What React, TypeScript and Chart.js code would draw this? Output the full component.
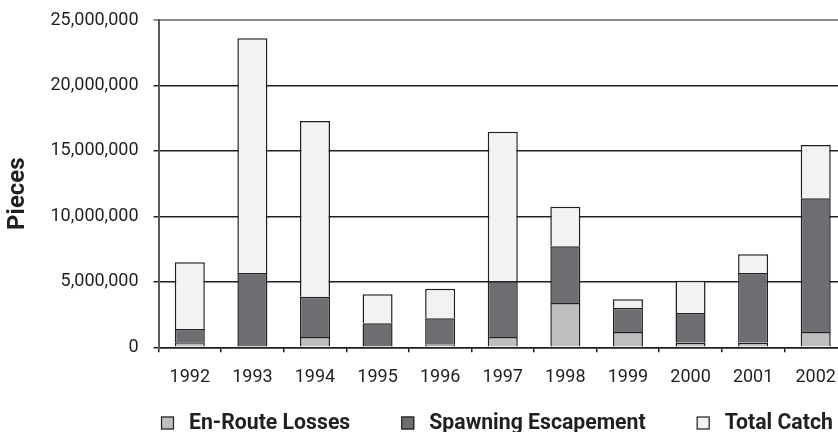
import React, { useEffect, useRef } from "react";
import { Chart, registerables } from "chart.js";

Chart.register(...registerables);

// ---- data ----
const years = ["1992", "1993", "1994", "1995", "1996", "1997", "1998", "1999", "2000", "2001", "2002"];
const enRouteLosses = [380000, 0, 790000, 0, 200000, 790000, 3380000, 1170000, 350000, 350000, 1170000];
const spawningEscapement = [1020000, 5680000, 3080000, 1830000, 2010000, 4250000, 4340000, 1860000, 2270000, 5330000, 10210000];
const totalCatch = [5090000, 17920000, 13420000, 2220000, 2270000, 11430000, 3020000, 640000, 2470000, 1420000, 4070000];
const seriesNames = ["En-Route Losses", "Spawning Escapement", "Total Catch"];
const yAxisTitle = "Pieces";
const yMax = 25000000;
const yStep = 5000000;

const FONT = "Roboto, 'Liberation Sans', Arial, sans-serif";
const INK = "#231f20";
const COLORS = ["#bcbec0", "#6d6e71", "#f2f2f3"];

const annotations = {
  id: "bottomLegend",
  afterDraw(chart: any) {
    const { ctx, chartArea } = chart;
    ctx.save();
    // legend
    const box = 13;
    const gap = 15;
    const itemGap = 51;
    const squeeze = 0.965;
    const cy = 423;
    ctx.font = `bold 22px ${FONT}`;
    ctx.textBaseline = "middle";
    ctx.textAlign = "left";
    let x = chartArea.left + 2.5;
    chart.data.datasets.forEach((ds: any) => {
      ctx.fillStyle = ds.backgroundColor;
      ctx.fillRect(x, cy - box / 2, box, box);
      ctx.strokeStyle = INK;
      ctx.lineWidth = 1.2;
      ctx.strokeRect(x + 0.5, cy - box / 2 + 0.5, box - 1, box - 1);
      ctx.fillStyle = INK;
      const tx = x + box + gap;
      ctx.save();
      ctx.translate(tx, cy);
      ctx.scale(squeeze, 1);
      ctx.fillText(ds.label, 0, 0);
      ctx.restore();
      x = tx + ctx.measureText(ds.label).width * squeeze + itemGap;
    });
    // y-axis title
    ctx.translate(18, (chartArea.top + chartArea.bottom) / 2 + 10);
    ctx.rotate(-Math.PI / 2);
    ctx.textAlign = "center";
    ctx.font = `bold 24px ${FONT}`;
    ctx.fillStyle = INK;
    ctx.fillText(yAxisTitle, 0, 0);
    ctx.restore();
  },
};

export default function App() {
  const ref = useRef<HTMLCanvasElement | null>(null);

  useEffect(() => {
    if (!ref.current) return;
    const series = [enRouteLosses, spawningEscapement, totalCatch];
    const chart = new Chart(ref.current, {
      type: "bar",
      data: {
        labels: years,
        datasets: series.map((d, i) => ({
          label: seriesNames[i],
          data: d,
          backgroundColor: COLORS[i],
          borderColor: INK,
          borderWidth: (c: any) =>
            c.raw === 0 ? 0 : { top: 1.5, bottom: 0, left: 1.5, right: 1.5 },
          borderSkipped: false,
          barPercentage: 0.48,
          categoryPercentage: 1.0,
        })),
      },
      options: {
        responsive: true,
        maintainAspectRatio: false,
        animation: false,
        layout: { padding: { top: 20, right: 13, left: 0, bottom: 0 } },
        plugins: {
          legend: { display: false },
          tooltip: { enabled: false },
        },
        scales: {
          x: {
            stacked: true,
            grid: {
              display: true,
              drawOnChartArea: false,
              offset: true,
              tickLength: 5,
              color: INK,
              lineWidth: 1.5,
            },
            border: { color: INK, width: 1.5 },
            ticks: { font: { family: FONT, size: 18 }, color: INK, padding: 14 },
            afterFit(s: any) {
              s.height = 84.7;
              s.paddingLeft = 0;
              s.paddingRight = 0;
            },
          },
          y: {
            stacked: true,
            min: 0,
            max: yMax,
            ticks: {
              stepSize: yStep,
              font: { family: FONT, size: 18 },
              color: INK,
              padding: 15,
              callback: (v: any) => Number(v).toLocaleString("en-US"),
            },
            grid: {
              color: (c: any) => (c.tick && c.tick.value === yMax ? "#8a8b8d" : INK),
              lineWidth: (c: any) => (c.tick && c.tick.value === yMax ? 2 : 1.5),
              tickLength: 5,
            },
            border: { color: "#58595b", width: 2 },
            afterFit(s: any) {
              s.width = 158.5;
              s.paddingTop = 0;
              s.paddingBottom = 0;
            },
          },
        },
      },
      plugins: [annotations],
    });
    return () => chart.destroy();
  }, []);

  return (
    <div style={{ position: "absolute", left: 0, top: 0, width: 838, height: 432, overflow: "hidden", background: "#fff" }}>
      <div style={{ position: "relative", width: 860, height: 432 }}>
        <canvas ref={ref} />
      </div>
    </div>
  );
}
